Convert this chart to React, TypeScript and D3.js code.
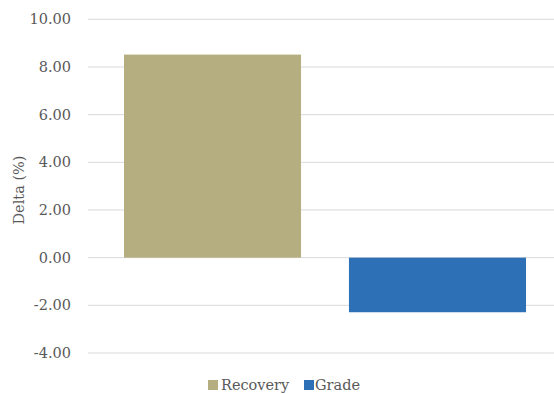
import React from "react";
import * as d3 from "d3";

const series = ["Recovery", "Grade"];
const values = [8.52, -2.29];
const colors = ["#B5AE80", "#2E70B6"];
const yTicks = [-4, -2, 0, 2, 4, 6, 8, 10];

const W = 554;
const H = 394;
const FONT = "'Palatino Linotype', Palatino, 'DejaVu Serif', 'Liberation Serif', serif";

const fmt = (v: number) => d3.format(".2f")(v).replace("\u2212", "-");

export default function App() {
  const y = d3.scaleLinear().domain([-4, 10]).range([353, 19.3]);
  const x = d3
    .scaleBand<string>()
    .domain(series)
    .range([88, 562])
    .paddingInner(0.213)
    .paddingOuter(0.16);

  const legendItems = [
    { name: series[0], color: colors[0], sx: 208, tx: 221 },
    { name: series[1], color: colors[1], sx: 304, tx: 315 },
  ];

  return (
    <svg
      width={W}
      height={H}
      style={{ position: "absolute", left: 0, top: 0, background: "#fff" }}
    >
      {yTicks.map((t) => (
        <g key={t}>
          <line x1={88} x2={W} y1={y(t)} y2={y(t)} stroke="#D9D9D9" strokeWidth={1} />
          <text
            x={71}
            y={y(t)}
            dy="0.35em"
            textAnchor="end"
            fontFamily={FONT}
            fontSize={14.5}
            fill="#595959"
          >
            {fmt(t)}
          </text>
        </g>
      ))}
      {series.map((s, i) => (
        <rect
          key={s}
          x={x(s)}
          width={x.bandwidth()}
          y={Math.min(y(values[i]), y(0))}
          height={Math.abs(y(values[i]) - y(0))}
          fill={colors[i]}
        />
      ))}
      <text
        transform={`translate(24,190) rotate(-90)`}
        textAnchor="middle"
        fontFamily={FONT}
        fontSize={14.5}
        fill="#595959"
      >
        Delta (%)
      </text>
      {legendItems.map((it) => (
        <g key={it.name}>
          <rect x={it.sx} y={380} width={10} height={10} fill={it.color} />
          <text x={it.tx} y={390} fontFamily={FONT} fontSize={14.5} fill="#595959">
            {it.name}
          </text>
        </g>
      ))}
    </svg>
  );
}
